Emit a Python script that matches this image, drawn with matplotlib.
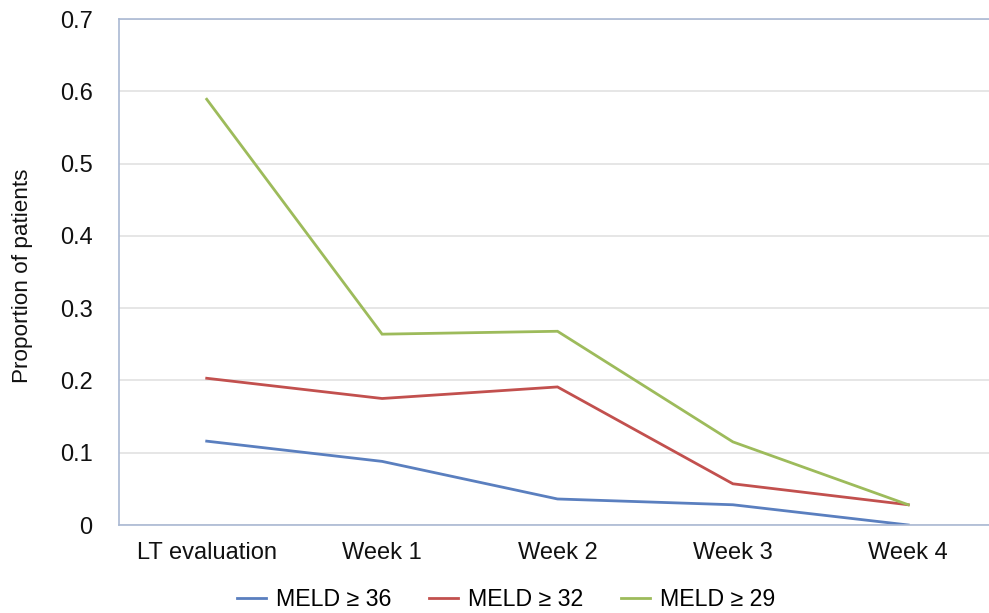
import matplotlib
matplotlib.use("Agg")
import matplotlib.pyplot as plt

plt.rcParams['font.family'] = ['Liberation Sans', 'DejaVu Sans']

# data
categories = ["LT evaluation", "Week 1", "Week 2", "Week 3", "Week 4"]
meld_36 = [0.116, 0.088, 0.036, 0.028, 0.0]
meld_32 = [0.203, 0.175, 0.191, 0.057, 0.028]
meld_29 = [0.589, 0.264, 0.268, 0.115, 0.028]
series_labels = ["MELD \u2265 36", "MELD \u2265 32", "MELD \u2265 29"]
series_colors = ["#5a7fbf", "#c2504e", "#9dbb5b"]
y_ticks = [0, 0.1, 0.2, 0.3, 0.4, 0.5, 0.6, 0.7]
y_tick_labels = ["0", "0.1", "0.2", "0.3", "0.4", "0.5", "0.6", "0.7"]

fig = plt.figure(figsize=(9.89, 6.13), dpi=100)
# plot area runs past the right edge (the source image is cropped)
ax = fig.add_axes([119 / 989, 1 - 525 / 613, 877 / 989, 506 / 613])

x = list(range(len(categories)))
for vals, lab, col in zip([meld_36, meld_32, meld_29], series_labels, series_colors):
    ax.plot(x, vals, color=col, linewidth=2.0, label=lab, solid_joinstyle='miter')

ax.set_xlim(-0.5, len(categories) - 0.5)
ax.set_ylim(0, 0.7)
ax.set_yticks(y_ticks)
ax.set_yticklabels(y_tick_labels)
ax.set_xticks(x)
ax.set_xticklabels(categories)
ax.tick_params(axis='both', length=0, labelsize=17, colors='#111111')
ax.tick_params(axis='y', pad=19)
ax.tick_params(axis='x', pad=12)

ax.grid(axis='y', color='#e2e2e2', linewidth=1.2)
ax.set_axisbelow(True)
for side in ['left', 'top', 'bottom', 'right']:
    ax.spines[side].set_color('#aab9d3')
    ax.spines[side].set_linewidth(1.2)

fig.text(23 / 989, 1 - 276 / 613, "Proportion of patients", rotation=90,
         ha='center', va='center', fontsize=16.2, color='#111111')

handles, labels = ax.get_legend_handles_labels()
fig.legend(handles, labels, loc='center', bbox_to_anchor=(506 / 989, 1 - 600 / 613),
           ncol=3, frameon=False, fontsize=16.7, handlelength=1.25,
           handletextpad=0.43, columnspacing=1.64)

fig.savefig("out.png", dpi=100)
